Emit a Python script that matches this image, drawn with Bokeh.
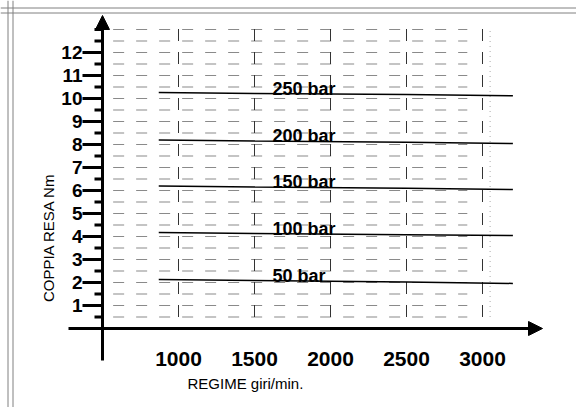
import numpy as np
from bokeh.plotting import figure
from bokeh.models import Range1d, Arrow, NormalHead, Span
from bokeh.core.properties import value
from bokeh.embed import file_html
from bokeh.resources import INLINE

# ---------------- data ----------------
rpm_ticks = [1000, 1500, 2000, 2500, 3000]
rpm_tick_labels = ["1000", "1500", "2000", "2500", "3000"]
torque_ticks = [1, 2, 3, 4, 5, 6, 7, 8, 9, 10, 11, 12]
torque_tick_labels = ["1", "2", "3", "4", "5", "6", "7", "8", "9", "10", "11", "12"]

curve_rpm = [870, 1500, 2500, 3200]
curve_50 = [2.13, 2.09, 2.02, 1.96]
curve_100 = [4.17, 4.13, 4.08, 4.04]
curve_150 = [6.20, 6.15, 6.10, 6.04]
curve_200 = [8.20, 8.15, 8.10, 8.04]
curve_250 = [10.26, 10.22, 10.17, 10.12]
pressure_labels = ["50 bar", "100 bar", "150 bar", "200 bar", "250 bar"]

x_title = "REGIME giri/min."
y_title = "COPPIA RESA Nm"

# ---------------- layout ----------------
W, H = 576, 407
RPM_PER_PX = 1000 / 152.0
NM_PER_PX = 1 / 23.0
ANCHOR_PX, ANCHOR_RPM = 178, 1000      # canvas px of rpm 1000
ZERO_PX = 328                          # canvas px (from top) of torque 0

x_start = ANCHOR_RPM - ANCHOR_PX * RPM_PER_PX
x_end = x_start + W * RPM_PER_PX
y_end = ZERO_PX * NM_PER_PX
y_start = y_end - H * NM_PER_PX

AXIS_RPM = 500          # where the vertical axis crosses
GRID_X0, GRID_X1 = 570, 2900
GRID_Y0, GRID_Y1 = 0.5, 13.1
EDGE_RPM = 3050
LABEL_RPM = 1618

FONT = value("Liberation Sans")

p = figure(width=W, height=H, output_backend="svg", toolbar_location=None,
           x_range=Range1d(x_start, x_end), y_range=Range1d(y_start, y_end),
           min_border=0)
p.axis.visible = False
p.grid.visible = False
p.outline_line_color = None
p.background_fill_color = "white"
p.border_fill_color = "white"

# frame (double border, top and left)
for off in (7.5, 12.5):
    p.add_layout(Span(location=y_end - off * NM_PER_PX, dimension="width",
                      line_color="#808080", line_width=1))
    p.add_layout(Span(location=x_start + off * RPM_PER_PX, dimension="height",
                      line_color="#808080", line_width=1))

# horizontal dashed grid
levels = [0.5 * i for i in range(1, 27)]
p.segment(x0=[GRID_X0] * len(levels), x1=[GRID_X1] * len(levels), y0=levels, y1=levels,
          line_color="#8a8a8a", line_width=1.2, line_dash="11 12")
# vertical dashed grid
p.segment(x0=rpm_ticks, x1=rpm_ticks, y0=[GRID_Y0] * 5, y1=[GRID_Y1] * 5,
          line_color="#333333", line_width=1, line_dash="12 11")
p.segment(x0=[EDGE_RPM], x1=[EDGE_RPM], y0=[GRID_Y0], y1=[GRID_Y1],
          line_color="#aaaaaa", line_width=1, line_dash="1 4")

# curves
for c in (curve_50, curve_100, curve_150, curve_200, curve_250):
    p.line(curve_rpm, c, line_color="black", line_width=1.5)

# curve labels
lab_y = [float(np.interp(LABEL_RPM, curve_rpm, c)) + 5 * NM_PER_PX
         for c in (curve_50, curve_100, curve_150, curve_200, curve_250)]
p.text(x=[LABEL_RPM] * 5, y=lab_y, text=pressure_labels, text_font=FONT,
       text_font_style="bold", text_font_size="18px", text_align="left",
       text_baseline="alphabetic", text_color="black")

# axes with arrows
p.add_layout(Arrow(end=NormalHead(size=14, fill_color="black", line_color="black"),
                   x_start=AXIS_RPM, y_start=-32 * NM_PER_PX,
                   x_end=AXIS_RPM, y_end=y_end - 15 * NM_PER_PX,
                   line_color="black", line_width=3))
p.add_layout(Arrow(end=NormalHead(size=14, fill_color="black", line_color="black"),
                   x_start=x_start + 68 * RPM_PER_PX, y_start=0,
                   x_end=x_start + 542 * RPM_PER_PX, y_end=0,
                   line_color="black", line_width=3))

# y ticks
major_len = 20 * RPM_PER_PX
minor_len = 8 * RPM_PER_PX
minor = [v for v in levels if v not in torque_ticks]
p.segment(x0=[AXIS_RPM - major_len] * len(torque_ticks), x1=[AXIS_RPM] * len(torque_ticks),
          y0=torque_ticks, y1=torque_ticks, line_color="black", line_width=3)
p.segment(x0=[AXIS_RPM - minor_len] * len(minor), x1=[AXIS_RPM] * len(minor),
          y0=minor, y1=minor, line_color="black", line_width=3)

# tick labels
p.text(x=[AXIS_RPM - major_len] * len(torque_ticks), y=torque_ticks, text=torque_tick_labels,
       text_font=FONT, text_font_style="bold", text_font_size="19px",
       text_align="right", text_baseline="alphabetic", text_color="black")
p.text(x=rpm_ticks, y=[-30 * NM_PER_PX] * 5, text=rpm_tick_labels,
       text_font=FONT, text_font_style="bold", text_font_size="21px",
       text_align="center", text_baseline="alphabetic", text_color="black")

# axis titles
p.text(x=[ANCHOR_RPM + 9 * RPM_PER_PX], y=[-55 * NM_PER_PX], text=[x_title],
       text_font=FONT, text_font_size="15px", text_align="left",
       text_baseline="alphabetic", text_color="black")
p.text(x=[ANCHOR_RPM - 130 * RPM_PER_PX], y=[91 * NM_PER_PX], text=[y_title],
       text_font=FONT, text_font_size="15px", text_align="center",
       text_baseline="alphabetic", angle=np.pi / 2, text_color="black")

open("out.html", "w").write(file_html(p, INLINE))
